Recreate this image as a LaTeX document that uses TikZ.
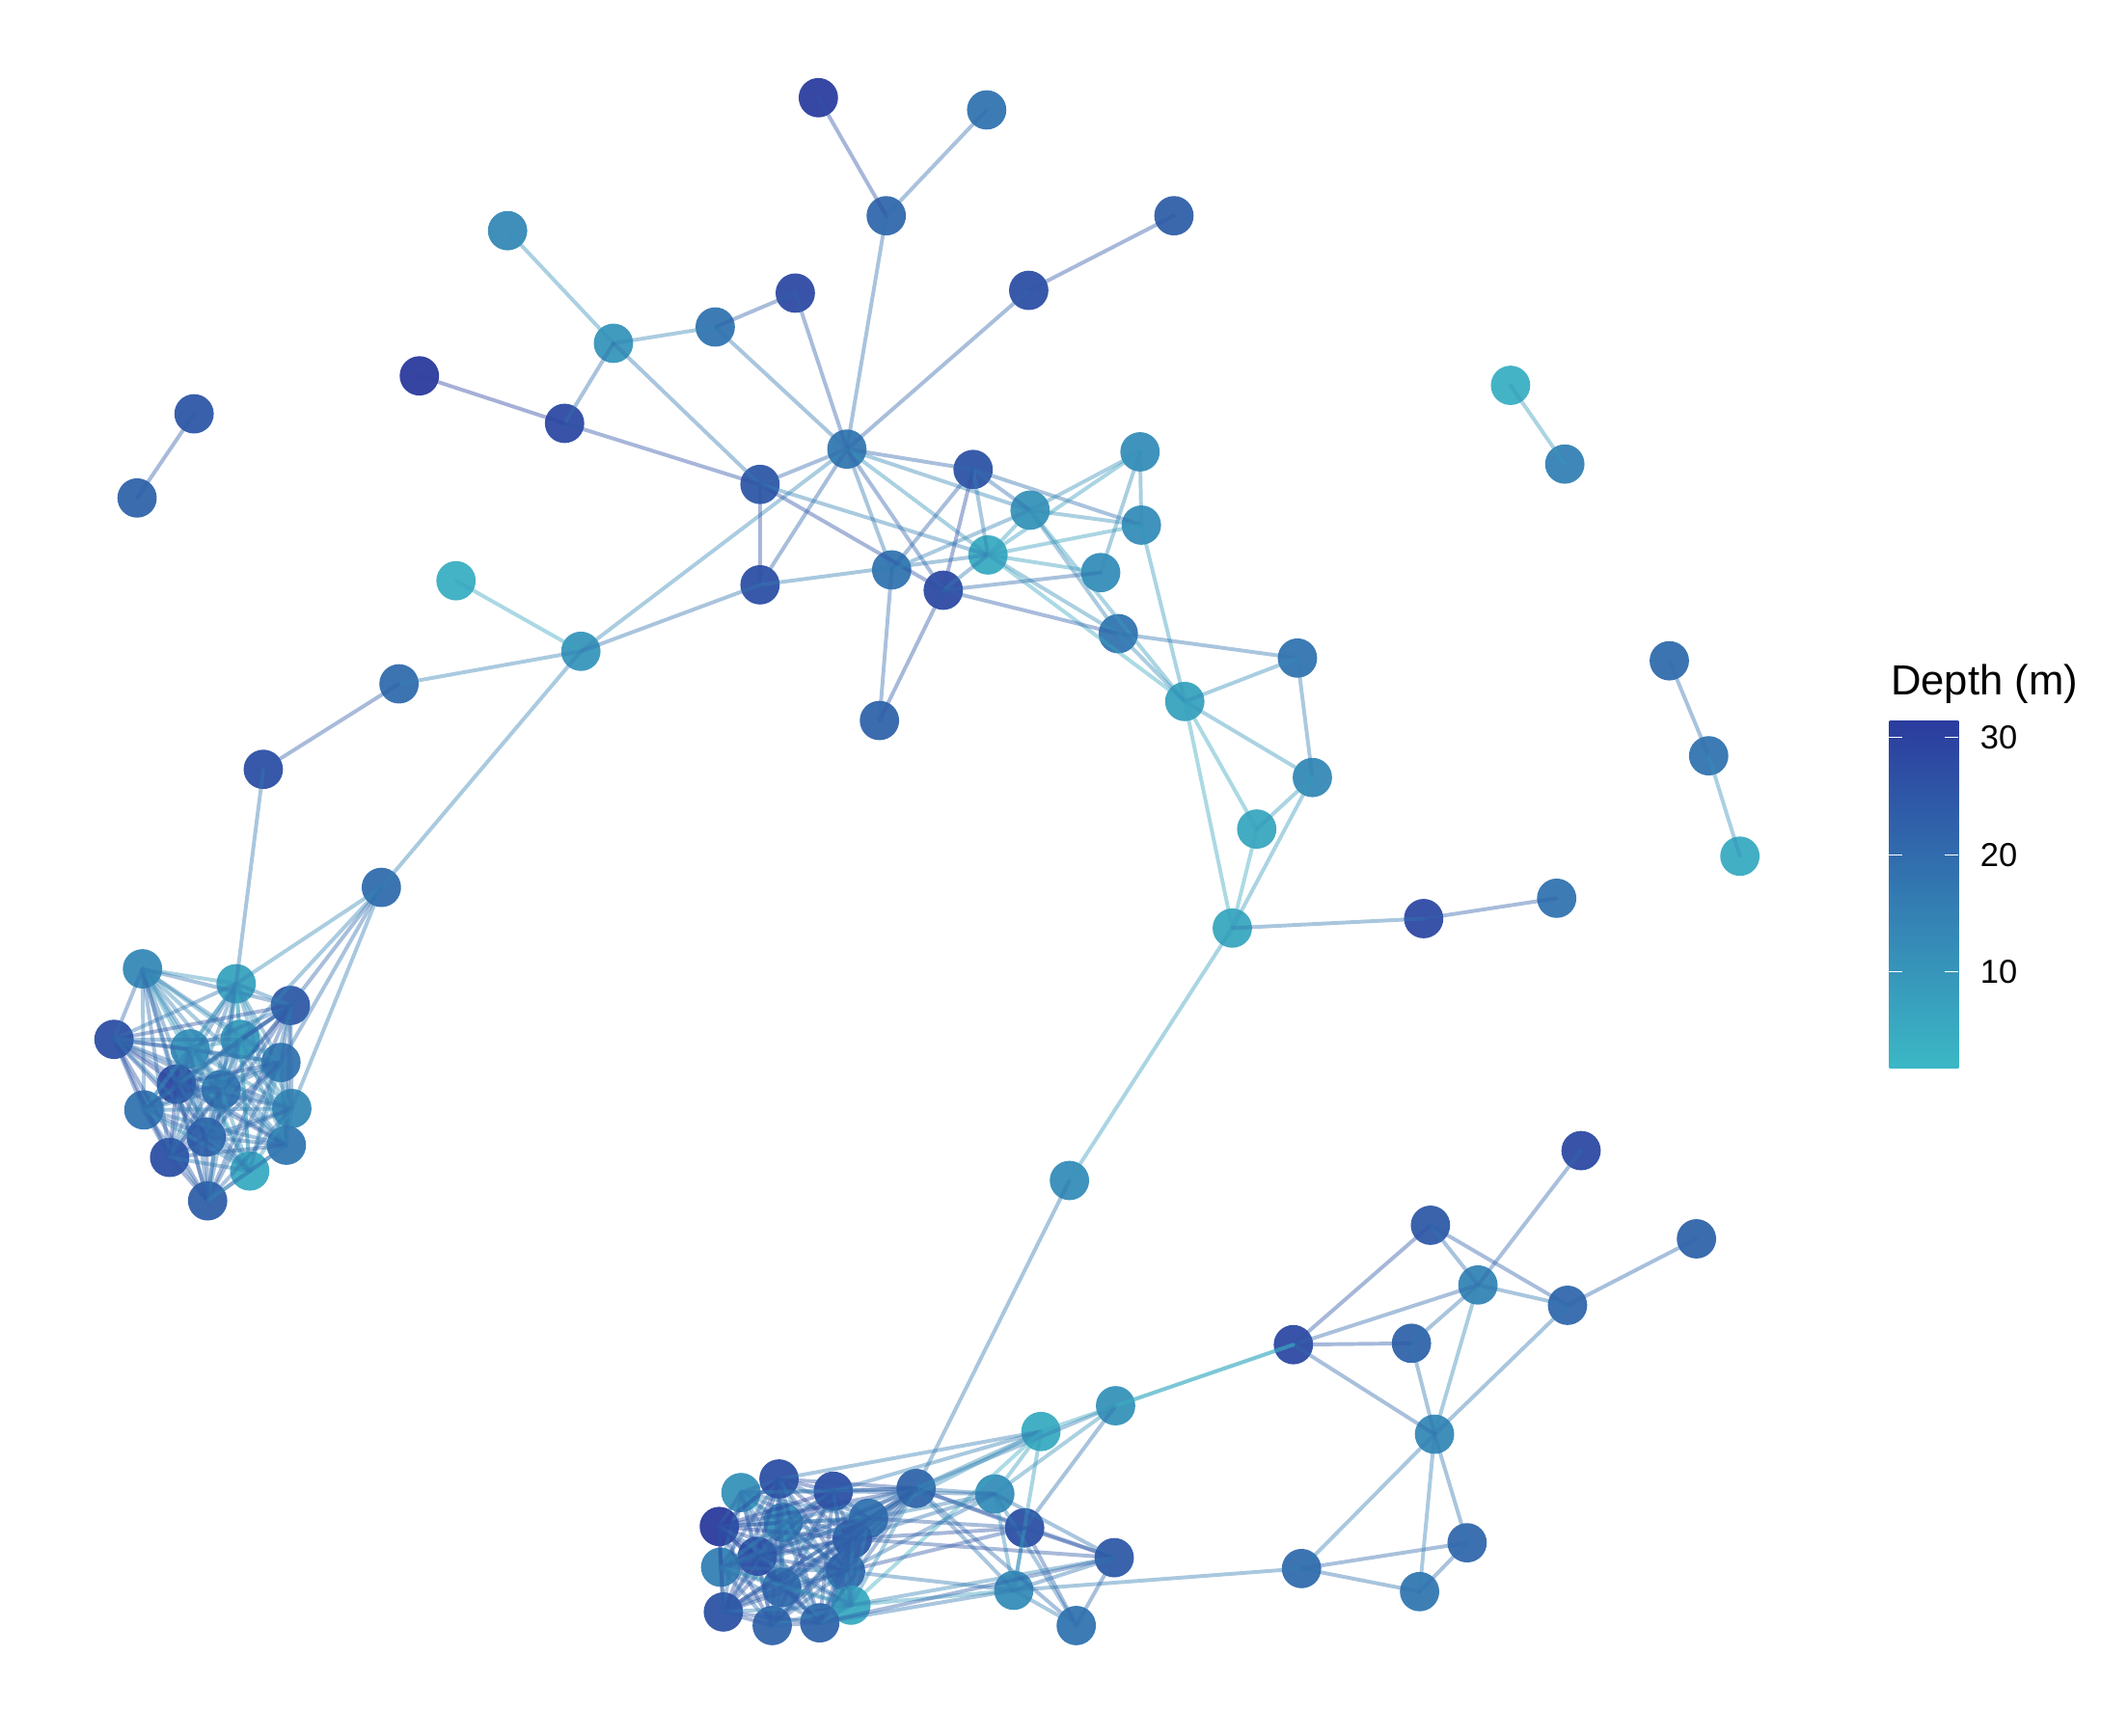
\documentclass[tikz,border=0pt]{standalone}
\usepackage{fontspec}
\setmainfont{Liberation Sans}
\definecolor{deep}{RGB}{43,60,158}
\definecolor{shallow}{RGB}{59,184,197}
\tikzset{
  site/.style={circle,inner sep=0pt,minimum size=29pt,draw=none,fill opacity=0.95},
  linkline/.style={line width=2.8pt,draw opacity=0.42,line cap=round},
  tickw/.style={draw=white,line width=0.8pt},
  ticklab/.style={anchor=west,font=\fontsize{24.5}{28}\selectfont,inner sep=0pt},
}
\newcommand\site[4]{%
  \pgfmathsetmacro\pct{(#4-1.8)/29.65*100}%
  \expandafter\xdef\csname dp@#1\endcsname{#4}%
  \node[site,fill=deep!\pct!shallow] (#1) at (#2,#3) {};}
\newcommand\lnk[2]{%
  \pgfmathsetmacro\pct{((\csname dp@#1\endcsname+\csname dp@#2\endcsname)/2-1.8)/29.65*100}%
  \draw[linkline,draw=deep!\pct!shallow] (#1.center) -- (#2.center);}
\begin{document}
\begin{tikzpicture}[x=1pt,y=-1pt]
\useasboundingbox (0,0) rectangle (1568,1279);
% ---- top network
\site{A1}{603}{72}{31}
\site{A2}{727}{81}{18}
\site{A3}{653}{159}{21}
\site{A4}{865}{159}{23}
\site{A5}{374}{170}{13}
\site{A6}{586}{216}{28}
\site{A7}{758}{214}{27}
\site{A8}{527}{241}{18}
\site{A9}{452}{253}{10}
\site{A10}{309}{277}{32}
\site{A11}{416}{312}{28}
\site{A12}{624}{331}{17}
\site{A13}{560}{357}{25}
\site{A14}{717}{346}{26}
\site{A15}{840}{333}{12}
\site{A16}{759}{376}{11}
\site{A17}{841}{387}{12}
\site{A18}{728}{409}{5}
\site{A19}{811}{422}{12}
\site{A20}{657}{420}{18}
\site{A21}{695}{435}{28}
\site{A22}{560}{431}{27}
\site{A23}{336}{428}{4}
\site{A24}{428}{480}{10}
\site{A25}{824}{467}{18}
\site{A26}{956}{485}{18}
\site{A27}{873}{517}{7}
\site{A28}{294}{504}{20}
\site{A29}{648}{531}{22}
\site{A30}{194}{567}{27}
\site{A31}{967}{573}{13}
\site{A32}{926}{611}{6}
\site{A33}{281}{654}{20}
\site{A34}{908}{684}{6}
\site{A35}{1049}{677}{28}
\site{A36}{1147}{662}{18}
\site{A37}{788}{870}{12}
% ---- isolated pairs
\site{P1}{143}{305}{25}
\site{P2}{101}{367}{22}
\site{Q1}{1113}{284}{4}
\site{Q2}{1153}{342}{15}
\site{R1}{1230}{487}{20}
\site{R2}{1259}{557}{18}
\site{R3}{1282}{631}{5}
% ---- left cluster
\site{L1}{105}{714}{13}
\site{L2}{174}{725}{7}
\site{L3}{214}{741}{24}
\site{L4}{84}{766}{27}
\site{L5}{140}{773}{11}
\site{L6}{177}{766}{9}
\site{L7}{207}{783}{18}
\site{L8}{130}{799}{29}
\site{L9}{163}{803}{17}
\site{L10}{106}{818}{18}
\site{L11}{215}{817}{13}
\site{L12}{152}{838}{24}
\site{L13}{211}{844}{17}
\site{L14}{125}{853}{27}
\site{L15}{184}{863}{5}
\site{L16}{153}{885}{23}
% ---- bottom cluster
\site{B1}{546}{1100}{11}
\site{B2}{574}{1090}{27}
\site{B3}{614}{1099}{27}
\site{B4}{530}{1125}{32}
\site{B5}{577}{1122}{12}
\site{B6}{640}{1119}{18}
\site{B7}{628}{1134}{25}
\site{B8}{558}{1147}{28}
\site{B9}{531}{1155}{15}
\site{B10}{623}{1158}{22}
\site{B11}{576}{1170}{20}
\site{B12}{627}{1183}{5}
\site{B13}{533}{1188}{26}
\site{B14}{569}{1198}{22}
\site{B15}{604}{1196}{22}
\site{B16}{675}{1097}{22}
\site{B17}{733}{1101}{12}
\site{B18}{755}{1126}{27}
\site{B19}{821}{1148}{24}
\site{B20}{747}{1172}{12}
\site{B21}{793}{1198}{18}
\site{B22}{767}{1055}{5}
% ---- bottom right
\site{C1}{822}{1036}{11}
\site{C2}{953}{991}{28}
\site{C3}{1040}{990}{22}
\site{C4}{1054}{903}{24}
\site{C5}{1089}{947}{14}
\site{C6}{1155}{962}{21}
\site{C7}{1165}{848}{28}
\site{C8}{1250}{913}{22}
\site{C9}{1057}{1057}{13}
\site{C10}{959}{1156}{20}
\site{C11}{1046}{1173}{17}
\site{C12}{1081}{1137}{21}
% ---- connectors
\foreach \a/\b in {A1/A3,A2/A3,A3/A12,A4/A7,A7/A12,A6/A8,A6/A12,A8/A9,A8/A12,A5/A9,
  A9/A11,A9/A13,A10/A11,A11/A13,A12/A13,A12/A14,A12/A16,A12/A18,A12/A20,A12/A21,
  A12/A22,A12/A24,A13/A22,A13/A18,A13/A21,A22/A18,A22/A24,A14/A16,A14/A17,A14/A18,
  A14/A20,A14/A21,A15/A16,A15/A17,A15/A18,A15/A19,A16/A17,A16/A18,A16/A20,A16/A25,
  A16/A27,A18/A17,A18/A19,A18/A21,A18/A25,A18/A27,A19/A21,A21/A25,A21/A29,A20/A29,
  A17/A27,A25/A26,A25/A27,A26/A27,A26/A31,A27/A31,A27/A32,A27/A34,A31/A32,A31/A34,
  A32/A34,A34/A35,A35/A36,A34/A37,A37/B16,A24/A23,A24/A28,A28/A30,A24/A33,
  A30/L2,A33/L2,A33/L3,A33/L6,A33/L7,A33/L11,
  P1/P2,Q1/Q2,R1/R2,R2/R3,
  C4/C2,C4/C5,C4/C6,C7/C5,C5/C6,C5/C2,C5/C3,C5/C9,C6/C8,C6/C9,C2/C3,
  C2/C9,C3/C9,C9/C10,C9/C11,C9/C12,C10/C11,C10/C12,C11/C12,C10/B20,
  B16/B17,B16/B18,B16/B19,B16/B20,B16/B21,B16/C1,B16/B22,B2/B22,B3/B22,B6/B22,
  B17/B22,B17/C1,B17/B20,B17/B19,B17/B21,B18/C1,B18/B19,B18/B21,B18/B20,B19/B20,
  B19/B21,B20/B21,B20/B22,
  B12/B20,B15/B20,B12/B22,B3/B17,B6/B17,B7/B17,B10/B17,B7/B18,B10/B18,B10/B20,
  B7/B19,B12/B19,B15/B19,B6/B18}
  {\lnk{\a}{\b}}
\draw[linkline,draw=shallow] (C2.center) -- (C1.center);
\draw[linkline,draw=shallow!85!deep] (C2.center) -- (B22.center);
\foreach \i in {1,...,16}{\foreach \j in {\i,...,16}{\ifnum\j>\i\relax\lnk{L\i}{L\j}\fi}}
\foreach \i in {1,...,15}{\foreach \j in {\i,...,15}{\ifnum\j>\i\relax\lnk{B\i}{B\j}\fi}}
\foreach \i in {1,...,15}{\lnk{B16}{B\i}}
% ---- legend
\node[anchor=base west,inner sep=0pt,font=\fontsize{31}{36}\selectfont] (ttl) at (1393,512) {Depth (m)};
\node[anchor=north west,inner sep=0pt,minimum width=51pt,minimum height=256pt,
  top color=deep,bottom color=shallow,draw=none] (cbar) at (1392,531) {};
\foreach \yy/\lab in {543.7/30,630.2/20,716.2/10}{
  \draw[tickw] (1392,\yy) -- (1402,\yy);
  \draw[tickw] (1433,\yy) -- (1443,\yy);
  \node[ticklab] at (1459,\yy) {\lab};}
\end{tikzpicture}
\end{document}
